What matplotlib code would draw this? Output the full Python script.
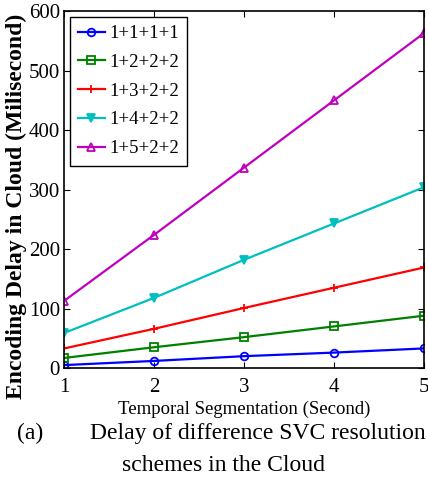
import matplotlib
matplotlib.use('Agg')
import matplotlib.pyplot as plt

# data
segments = [1, 2, 3, 4, 5]
labels = ['1+1+1+1', '1+2+2+2', '1+3+2+2', '1+4+2+2', '1+5+2+2']
delay_1111 = [5, 12, 20, 26, 33]
delay_1222 = [17, 35, 52, 70, 88]
delay_1322 = [33, 66, 101, 135, 169]
delay_1422 = [59, 118, 182, 243, 304]
delay_1522 = [113, 224, 337, 450, 563]

series = [delay_1111, delay_1222, delay_1322, delay_1422, delay_1522]
colors = [(0, 0, 1), (0, 0.5, 0), (1, 0, 0), (0, 0.75, 0.75), (0.75, 0, 0.75)]
markers = ['o', 's', '+', 'v', '^']

plt.rcParams['font.family'] = ['Liberation Serif', 'DejaVu Serif']

fig = plt.figure(figsize=(4.28, 4.78), dpi=100)
ax = fig.add_axes([0.150, 0.230, 0.841, 0.747])

for vals, lab, col, mk in zip(series, labels, colors, markers):
    ax.plot(segments, vals, color=col, marker=mk, markersize=5.5, linewidth=1.6,
            markerfacecolor='none' if mk in ('o', 's', '^') else col,
            markeredgewidth=1.3, label=lab)

ax.set_xlim(1, 5)
ax.set_ylim(0, 600)
ax.set_xticks(segments)
ax.set_yticks(range(0, 601, 100))
ax.tick_params(direction='in', top=True, right=True, length=4, width=0.8,
               labelsize=15)
ax.tick_params(axis='x', pad=7)
ax.tick_params(axis='y', pad=3)
for sp in ax.spines.values():
    sp.set_linewidth(1.2)

ax.set_xlabel('Temporal Segmentation (Second)', fontsize=13.5, labelpad=3)

leg = ax.legend(loc='upper left', fontsize=13.5, fancybox=False, framealpha=1,
                edgecolor='black', handlelength=1.4, borderpad=0.45,
                labelspacing=0.62, handletextpad=0.25, borderaxespad=0.3)
leg.get_frame().set_linewidth(1.0)

fig.text(0.038, 0.569, 'Encoding Delay in Cloud (Milisecond)', rotation=90,
         ha='center', va='center', fontsize=17, fontweight='bold')

fig.text(0.040, 0.094, '(a)', fontsize=17, ha='left', va='center')
fig.text(0.210, 0.094, 'Delay of difference SVC resolution', fontsize=17,
         ha='left', va='center')
fig.text(0.285, 0.027, 'schemes in the Cloud', fontsize=17, ha='left', va='center')

fig.savefig('out.png', dpi=100)
